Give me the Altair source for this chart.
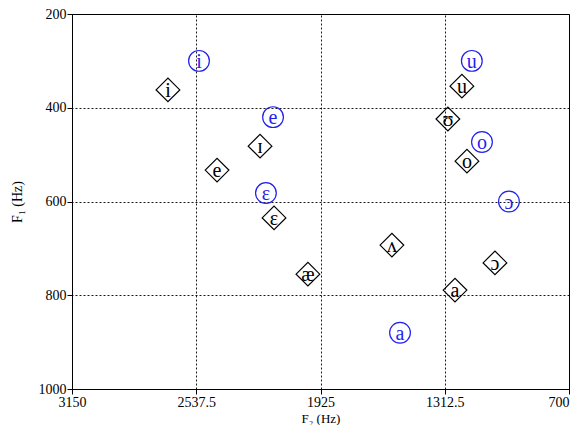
import altair as alt
import pandas as pd

black_symbols = ["i", "ɪ", "e", "ɛ", "æ", "ʌ", "a", "ɔ", "u", "ʊ", "o"]
black_f2 = [2677, 2223, 2435, 2154, 1987, 1573, 1262, 1065, 1228, 1297, 1203]
black_f1 = [362, 482, 533, 635, 755, 693, 789, 731, 354, 424, 514]

blue_symbols = ["i", "e", "ɛ", "a", "ɔ", "o", "u"]
blue_f2 = [2524, 2159, 2194, 1533, 996, 1129, 1179]
blue_f1 = [300, 420, 582, 880, 600, 473, 300]

x_ticks = [3150, 2537.5, 1925, 1312.5, 700]
y_ticks = [200, 400, 600, 800, 1000]

black = pd.DataFrame({"sym": black_symbols, "F2": black_f2, "F1": black_f1})
blue = pd.DataFrame({"sym": blue_symbols, "F2": blue_f2, "F1": blue_f1})

FONT = "'Liberation Serif', 'Times New Roman', 'DejaVu Serif', serif"
BLUE = "#1f1ff0"

x_enc = alt.X("F2:Q",
              scale=alt.Scale(domain=[700, 3150], reverse=True, nice=False, zero=False),
              axis=alt.Axis(values=x_ticks, labelExpr="datum.value", title="F₂ (Hz)",
                            grid=True, gridColor="black", gridDash=[2, 2], gridOpacity=0.9,
                            tickColor="black", tickSize=5, domain=False,
                            labelFont=FONT, labelFontSize=14, labelColor="black",
                            labelPadding=1, labelFlush=False,
                            labelAlign={"condition": {"test": "datum.value == 700", "value": "right"},
                                        "value": "center"},
                            titleFont=FONT, titleFontSize=13, titleFontWeight="normal",
                            titleColor="black", titlePadding=3))
y_enc = alt.Y("F1:Q",
              scale=alt.Scale(domain=[200, 1000], reverse=True, nice=False, zero=False),
              axis=alt.Axis(values=y_ticks, labelExpr="datum.value", title="F₁ (Hz)",
                            grid=True, gridColor="black", gridDash=[2, 2], gridOpacity=0.9,
                            tickColor="black", tickSize=5, domain=False,
                            labelFont=FONT, labelFontSize=14, labelColor="black",
                            labelPadding=1, labelFlush=False,
                            titleFont=FONT, titleFontSize=14, titleFontWeight="normal",
                            titleColor="black", titlePadding=14))

base_black = alt.Chart(black).encode(x=x_enc, y=y_enc)
base_blue = alt.Chart(blue).encode(x=x_enc, y=y_enc)

diamonds = base_black.mark_point(shape="diamond", size=560, color="black",
                                 strokeWidth=1.2, filled=False, opacity=1)
black_text = base_black.mark_text(font=FONT, fontSize=20, color="black",
                                  baseline="middle", dy=1).encode(text="sym:N")
circles = base_blue.mark_point(shape="circle", size=430, color=BLUE,
                               strokeWidth=1.2, filled=False, opacity=1)
blue_text = base_blue.mark_text(font=FONT, fontSize=20, color=BLUE,
                                baseline="middle", dy=1).encode(text="sym:N")

chart = alt.layer(diamonds, black_text, circles, blue_text).properties(
    width=497, height=375,
    autosize=alt.AutoSizeParams(type="none"),
    padding={"left": 64, "top": 6, "right": 3, "bottom": 38},
    background="white",
).configure_view(stroke="black", strokeWidth=1)

chart.save("out.html", embed_options={"renderer": "svg", "actions": False})
